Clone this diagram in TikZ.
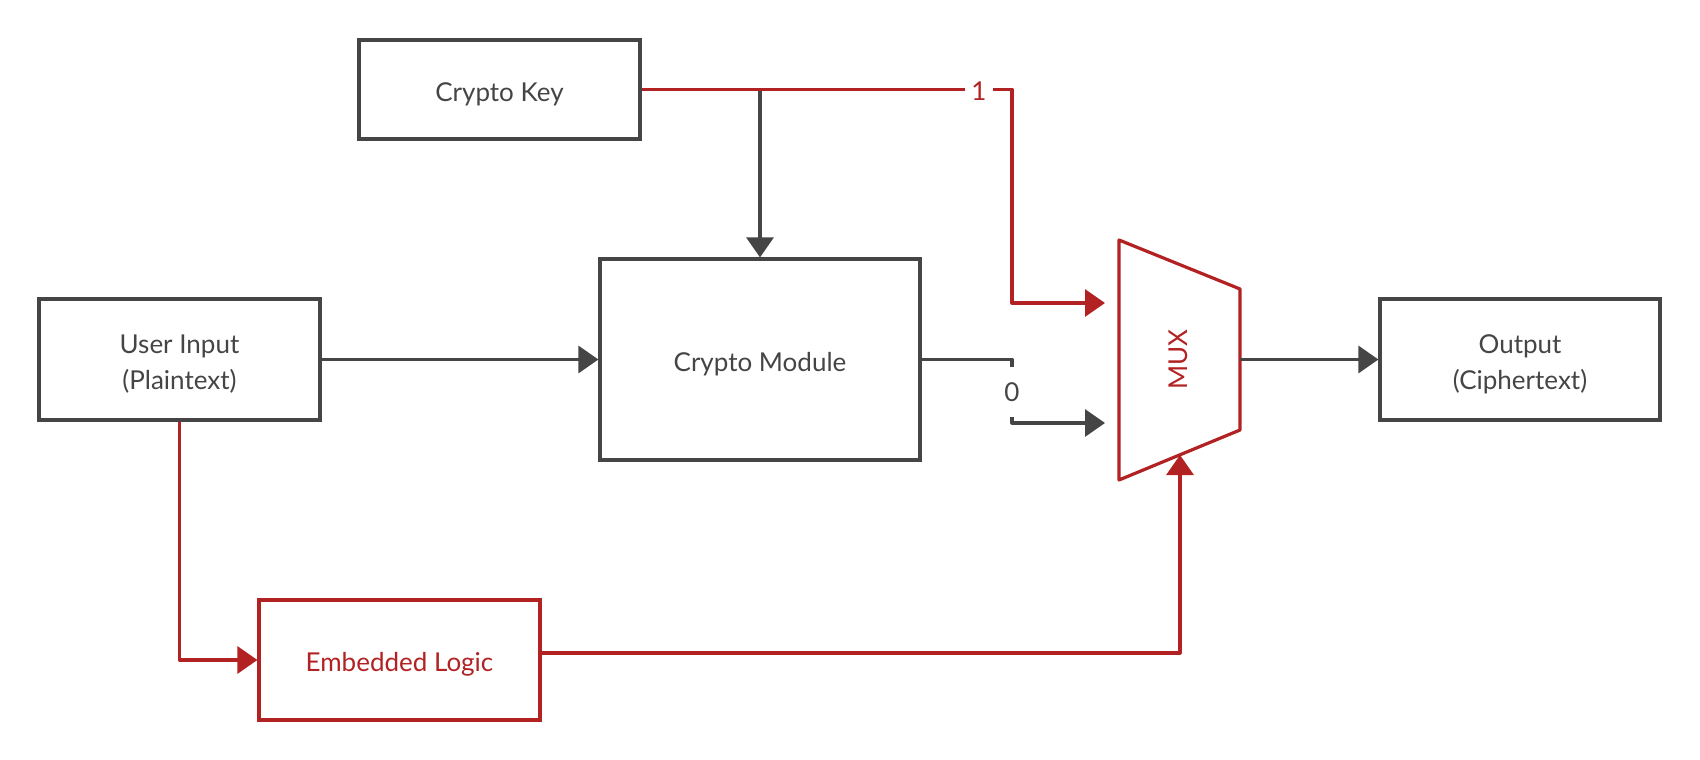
\documentclass[tikz,border=0pt]{standalone}
\usepackage{fontspec}
\setmainfont{Lato}
\usetikzlibrary{arrows.meta}
\definecolor{dg}{HTML}{454545}
\definecolor{rd}{HTML}{B22222}
\begin{document}
\begin{tikzpicture}[x=1pt,y=-1pt,
  txt/.style={font=\fontsize{26}{36}\selectfont},
  box/.style={draw=dg,line width=3.2pt,inner sep=0pt},
  rbox/.style={box,draw=rd},
  btxt/.style={txt,text=dg,align=center,yshift=-4.5pt,inner sep=0pt},
  rtxt/.style={btxt,text=rd},
  conn/.style={draw=dg,line width=3.2pt,line join=round},
  rconn/.style={conn,draw=rd},
  tip/.style={-{Triangle[length=20pt,width=27pt]}},
  lab/.style={txt,fill=white,inner ysep=2pt,inner xsep=6pt}]
\useasboundingbox (0,0) rectangle (1700,760);

\node[box,minimum width=281pt,minimum height=99pt,
  label={[btxt]center:Crypto Key}] (ck) at (499.5,89.5) {};
\node[box,minimum width=281pt,minimum height=121pt,
  label={[btxt]center:{User Input\\(Plaintext)}}] (ui) at (179.5,359.5) {};
\node[box,minimum width=320pt,minimum height=201pt,
  label={[btxt]center:Crypto Module}] (cm) at (760,359.5) {};
\node[box,minimum width=280pt,minimum height=121pt,
  label={[btxt]center:{Output\\(Ciphertext)}}] (out) at (1520,359.5) {};
\node[rbox,minimum width=281pt,minimum height=120pt,
  label={[rtxt]center:Embedded Logic}] (emb) at (399.5,660) {};

% MUX
\coordinate (m1) at (1119,240);
\coordinate (m2) at (1240,289);
\coordinate (m3) at (1240,430);
\coordinate (m4) at (1119,480);
\draw[draw=rd,line width=3.2pt,line join=round] (m1) -- (m2) -- (m3) -- (m4) -- cycle;
\node[txt,text=rd,rotate=90] (mux) at (1178,359.5) {MUX};

\coordinate (t1) at (1012,89.5);
\coordinate (i1) at (1105,303);
\coordinate (t0) at (1012,359.5);
\coordinate (i0) at (1105,423);
\coordinate (mo) at (1240,359.5);
\coordinate (mb) at (1180,455);

% connectors
\draw[conn,tip] (cm.north |- ck.east) -- (cm.north);
\draw[rconn,tip] (ck.east) -- (t1) |- (i1);
\draw[conn,tip] (cm.east) -- (t0) |- (i0);
\draw[conn,tip] (ui.east) -- (cm.west);
\draw[conn,tip] (mo) -- (out.west);
\draw[rconn,tip] (ui.south) |- (emb.west);
\draw[rconn,tip] ([yshift=7pt]emb.east) -| (mb);

\node[lab,text=rd,yshift=-1.5pt] (one) at (979,89.5) {1};
\node[lab,text=dg,minimum height=50pt,inner xsep=2pt] (zero) at (1012,392) {0};
\end{tikzpicture}
\end{document}
